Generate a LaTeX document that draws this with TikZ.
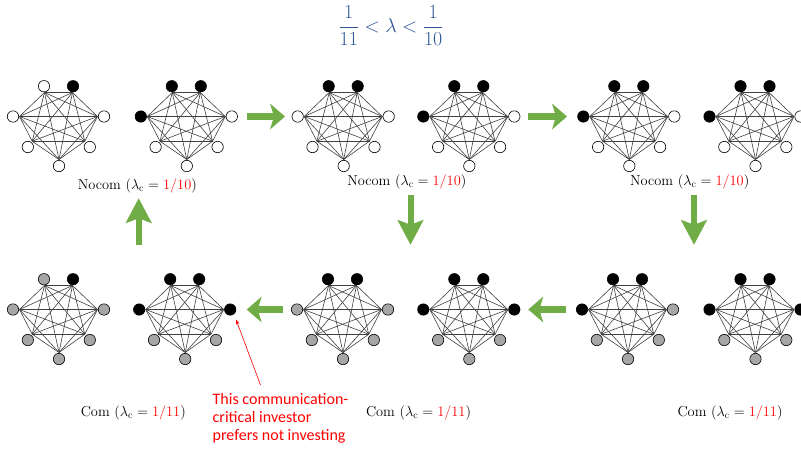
\documentclass[tikz,border=0pt]{standalone}
\usepackage{amsmath}
\usepackage{fontspec}
\newfontfamily\notefont{Carlito}
\usetikzlibrary{arrows.meta}
\definecolor{edgegray}{RGB}{64,64,64}
\definecolor{ngray}{RGB}{166,166,166}
\definecolor{agreen}{RGB}{112,173,71}
\definecolor{tblue}{RGB}{47,85,151}
\definecolor{nred}{RGB}{255,0,0}
\tikzset{
  edge/.style={draw=edgegray, line width=0.6pt},
  agent/.style={circle, draw=black, line width=0.6pt, minimum size=11.4pt, inner sep=0pt},
  bigarrow/.style={draw=agreen, line width=6.3pt,
    -{Stealth[length=15pt, width=26pt, inset=4pt, line width=0pt]}},
  bigarrowv/.style={draw=agreen, line width=6pt,
    -{Stealth[length=25pt, width=26.5pt, inset=5pt, line width=0pt]}},
  lab/.style={font=\fontsize{14.4}{16}\selectfont, anchor=base, inner sep=0pt},
  note/.style={font=\notefont\fontsize{16}{18}\selectfont, text=nred, anchor=base west, inner sep=0pt},
  pointer/.style={draw=nred, line width=0.6pt, -{Stealth[length=5pt, width=3.5pt]}},
}
\newcommand\kseven[4]{%
  \begin{scope}[shift={(#2,#3)}]
    \foreach \k/\vx/\vy/\cx/\cy in {1/-14/-24/-14.5/-30.3, 2/14/-24/14.5/-30.3,
        3/-39/0/-45.5/0, 4/39/0/45.5/0, 5/-26.3/24.7/-30.7/30.5,
        6/26.3/24.7/31.3/30.5, 7/0.5/43/0.5/49.5}{
      \coordinate (#1v\k) at (\vx,\vy);
      \coordinate (#1p\k) at (\cx,\cy);
    }
    \foreach \a/\b in {1/2,1/3,1/4,1/5,1/6,1/7,2/3,2/4,2/5,2/6,2/7,
        3/4,3/5,3/6,3/7,4/5,4/6,4/7,5/6,5/7,6/7}
      \draw[edge] (#1v\a) -- (#1v\b);
    \foreach \s [count=\k] in {#4}
      \node[agent, fill=\s] (#1c\k) at (#1p\k) {};
  \end{scope}}
\begin{document}
\begin{tikzpicture}[x=1pt,y=-1pt]
\useasboundingbox (0,0) rectangle (801,451);

% title
\node[text=tblue, font=\fontsize{20.74}{24}\selectfont, scale=0.96] (title) at (391,26)
  {$\dfrac{1}{11} < \lambda < \dfrac{1}{10}$};

% top row
\kseven{ga}{58.5}{116.5}{white,black,white,white,white,white,white}
\kseven{gb}{186.3}{116.5}{black,black,black,white,white,white,white}
\kseven{gc}{343.2}{116.5}{black,black,white,white,white,white,white}
\kseven{gd}{468.8}{116.5}{black,black,black,white,white,white,white}
\kseven{ge}{628.8}{116.5}{black,black,black,white,white,white,white}
\kseven{gf}{755}{116.5}{black,black,black,white,white,white,white}

% bottom row
\kseven{gg}{58.5}{309.5}{ngray,black,ngray,ngray,ngray,ngray,ngray}
\kseven{gh}{184.7}{309.5}{black,black,black,black,ngray,ngray,ngray}
\kseven{gi}{342.5}{309.5}{black,black,ngray,ngray,ngray,ngray,ngray}
\kseven{gj}{468.8}{309.5}{black,black,black,black,ngray,ngray,ngray}
\kseven{gk}{627.5}{309.5}{black,black,black,ngray,ngray,ngray,ngray}
\kseven{gl}{755}{309.5}{black,black,black,black,ngray,ngray,ngray}

% labels
\node[lab] (l1) at (137.3,189) {Nocom ($\lambda_{\mathrm{c}} = \textcolor{nred}{1/10}$)};
\node[lab] (l2) at (406.8,185) {Nocom ($\lambda_{\mathrm{c}} = \textcolor{nred}{1/10}$)};
\node[lab] (l3) at (689.7,185.5) {Nocom ($\lambda_{\mathrm{c}} = \textcolor{nred}{1/10}$)};
\node[lab] (l4) at (133.3,416.5) {Com ($\lambda_{\mathrm{c}} = \textcolor{nred}{1/11}$)};
\node[lab] (l5) at (418.5,416.5) {Com ($\lambda_{\mathrm{c}} = \textcolor{nred}{1/11}$)};
\node[lab] (l6) at (730,416.5) {Com ($\lambda_{\mathrm{c}} = \textcolor{nred}{1/11}$)};

% green arrows
\coordinate (a1s) at (247,116.5);   \coordinate (a1e) at (285,116.5);
\coordinate (a2s) at (528,116.5);   \coordinate (a2e) at (567,116.5);
\coordinate (a6s) at (283.3,309.5); \coordinate (a6e) at (246.7,309.5);
\coordinate (a7s) at (565.7,309.5); \coordinate (a7e) at (528.3,309.5);
\coordinate (a3s) at (410.5,194.5); \coordinate (a3e) at (410.5,244.7);
\coordinate (a4s) at (694,194.5);   \coordinate (a4e) at (694,244.7);
\coordinate (a5s) at (138.7,245);   \coordinate (a5e) at (138.7,198.3);
\foreach \n in {1,2,6,7} \draw[bigarrow] (a\n s) -- (a\n e);
\foreach \n in {3,4,5} \draw[bigarrowv] (a\n s) -- (a\n e);

% annotation
\coordinate (ntail) at (260.5,385);
\coordinate (ntip) at (236,319.5);
\draw[pointer] (ntail) -- (ntip);
\node[note] (n1) at (212.5,404) {This communication-};
\node[note] (n2) at (212.5,422.3) {critical investor};
\node[note] (n3) at (212.5,440.6) {prefers not investing};
\end{tikzpicture}
\end{document}
